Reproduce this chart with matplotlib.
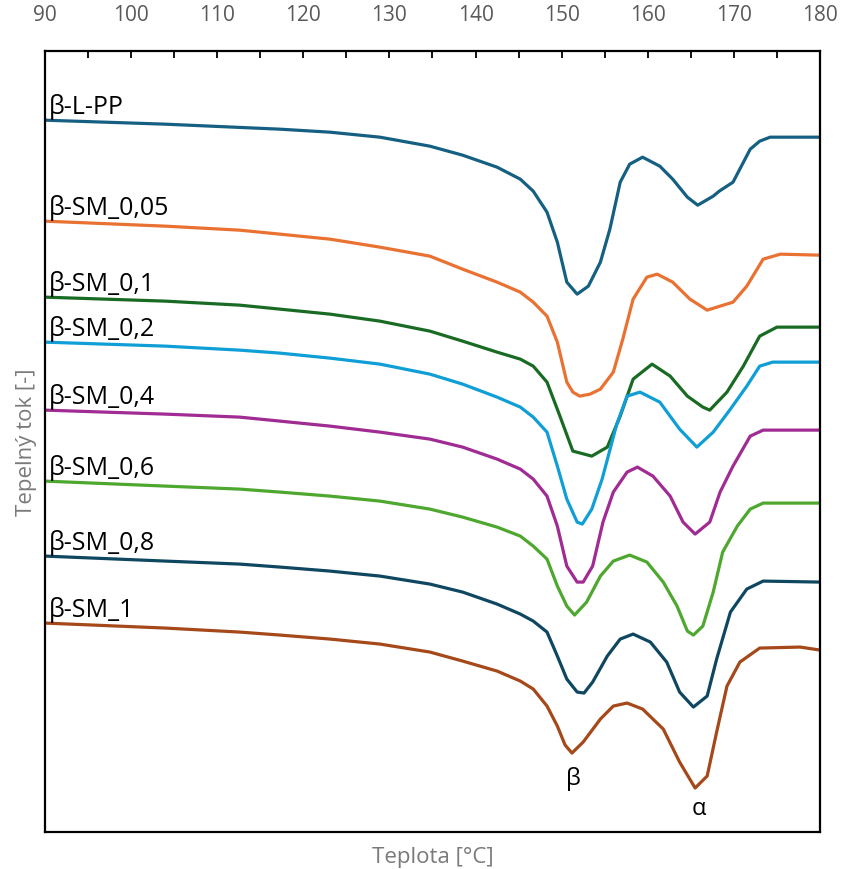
import matplotlib
matplotlib.use("Agg")
import matplotlib.pyplot as plt
from matplotlib.ticker import MultipleLocator

# DSC melting curves, heat flow in arbitrary units (curves are offset vertically)
names = ["β-L-PP", "β-SM_0,05", "β-SM_0,1", "β-SM_0,2",
         "β-SM_0,4", "β-SM_0,6", "β-SM_0,8", "β-SM_1"]
colors = ["#156082", "#E97132", "#196B24", "#0F9ED5",
          "#A02B93", "#4EA72E", "#0F4761", "#A5481A"]

t_lpp = [90, 104, 117.3, 123.1, 128.9, 134.7, 138.5, 142.5, 145.2, 146.7, 148.3, 149.5,
         150.6, 151.8, 153.1, 154.5, 155.6, 156.8, 157.9, 159.4, 161.4, 162.9, 164.6,
         165.8, 167.6, 168.3, 169.9, 171.9, 173.0, 174.2, 180]
q_lpp = [71.9, 71.5, 71.0, 70.7, 70.2, 69.3, 68.4, 67.2, 66.0, 64.8, 62.7, 59.7,
         55.7, 54.5, 55.3, 57.7, 61.0, 65.7, 67.5, 68.2, 67.3, 66.0, 64.2,
         63.4, 64.3, 64.8, 65.7, 69.0, 69.8, 70.2, 70.2]

t_005 = [90, 104, 112.6, 117.3, 123.1, 128.9, 134.7, 138.5, 142.5, 145.2, 146.7, 148.3,
         149.5, 150.6, 151.3, 152.1, 153.3, 154.5, 156.0, 157.1, 158.3, 159.9, 161.1,
         162.9, 164.9, 166.9, 169.9, 171.5, 173.4, 175.4, 180]
q_005 = [61.8, 61.3, 60.9, 60.5, 60.0, 59.2, 58.3, 57.0, 55.7, 54.7, 53.7, 52.3,
         49.7, 45.7, 44.7, 44.3, 44.5, 45.0, 46.7, 50.0, 54.0, 56.2, 56.5,
         55.7, 54.0, 52.9, 53.7, 55.3, 58.0, 58.5, 58.4]

t_01 = [90, 104, 112.6, 117.3, 123.1, 128.9, 134.7, 138.5, 142.5, 145.2, 146.7, 148.3,
        149.8, 151.3, 153.5, 155.3, 156.8, 158.3, 160.5, 162.6, 164.6, 166.4, 167.2,
        169.2, 171.1, 173.0, 175.0, 180]
q_01 = [54.2, 53.8, 53.4, 53.0, 52.5, 51.8, 50.8, 49.8, 48.7, 48.0, 47.3, 45.7,
        42.3, 38.8, 38.3, 39.2, 42.3, 46.0, 47.5, 46.3, 44.3, 43.2, 42.9,
        44.7, 47.3, 50.3, 51.2, 51.2]

t_02 = [90, 104, 112.6, 117.3, 123.1, 128.9, 134.7, 138.5, 142.5, 145.2, 146.7, 148.3,
        149.5, 150.6, 151.8, 152.4, 153.5, 154.7, 156.4, 157.6, 159.1, 161.4, 163.7,
        165.7, 167.6, 169.6, 171.5, 173.0, 174.5, 180]
q_02 = [49.7, 49.3, 48.9, 48.6, 48.1, 47.5, 46.5, 45.5, 44.2, 43.2, 42.2, 40.7,
        37.3, 34.0, 31.7, 31.5, 33.0, 36.0, 41.5, 44.3, 44.7, 43.7, 41.0,
        39.2, 40.7, 43.0, 45.3, 47.3, 47.7, 47.7]

t_04 = [90, 104, 112.6, 117.3, 123.1, 128.9, 134.7, 138.5, 142.5, 145.2, 146.7, 148.3,
        149.5, 150.6, 151.8, 152.5, 153.6, 154.8, 156.0, 157.6, 158.8, 160.6, 162.6,
        164.1, 165.5, 167.2, 168.4, 169.9, 171.9, 173.4, 180]
q_04 = [42.9, 42.5, 42.2, 41.8, 41.3, 40.7, 40.0, 39.2, 38.0, 37.0, 36.0, 34.3,
        31.3, 27.3, 25.7, 25.7, 27.3, 31.7, 34.7, 36.7, 37.2, 36.3, 34.3,
        31.7, 30.5, 31.7, 34.7, 37.3, 40.3, 40.9, 40.9]

t_06 = [90, 104, 112.6, 117.3, 123.1, 128.9, 134.7, 138.5, 142.5, 145.2, 146.7, 148.3,
        149.5, 150.6, 151.5, 152.9, 154.5, 156.0, 157.9, 159.9, 161.8, 163.4, 164.6,
        165.3, 166.4, 167.6, 168.7, 170.4, 171.9, 173.4, 180]
q_06 = [35.8, 35.3, 35.0, 34.7, 34.3, 33.8, 33.0, 32.2, 31.2, 30.3, 29.3, 28.0,
        25.3, 23.3, 22.4, 23.7, 26.3, 27.8, 28.4, 27.7, 25.7, 23.3, 20.8,
        20.4, 21.3, 24.7, 28.7, 31.3, 33.0, 33.6, 33.6]

t_08 = [90, 104, 112.6, 117.3, 123.1, 128.9, 134.7, 138.5, 142.5, 145.2, 146.7, 148.3,
        149.5, 150.6, 151.8, 152.6, 153.6, 155.3, 156.8, 158.3, 160.3, 162.2, 163.7,
        165.3, 166.9, 168.0, 169.6, 171.5, 173.4, 180]
q_08 = [28.3, 27.8, 27.5, 27.2, 26.8, 26.3, 25.5, 24.7, 23.5, 22.5, 21.8, 20.7,
        18.3, 16.0, 14.7, 14.6, 15.7, 18.3, 20.0, 20.5, 19.7, 17.7, 14.7,
        13.2, 14.3, 18.0, 22.7, 25.0, 25.8, 25.7]

t_1 = [90, 104, 112.6, 117.3, 123.1, 128.9, 134.7, 138.5, 142.5, 145.2, 146.7, 148.3,
       149.5, 150.4, 151.2, 152.5, 154.5, 156.0, 157.6, 159.4, 161.8, 163.7, 165.5,
       166.9, 168.0, 169.2, 170.7, 173.0, 177.7, 180]
q_1 = [21.6, 21.1, 20.7, 20.4, 20.0, 19.5, 18.7, 17.8, 16.8, 15.8, 15.0, 13.3,
       11.3, 9.4, 8.6, 9.7, 12.0, 13.3, 13.6, 13.0, 11.0, 7.7, 5.1,
       6.3, 10.7, 15.3, 17.7, 19.1, 19.2, 18.9]

temps = [t_lpp, t_005, t_01, t_02, t_04, t_06, t_08, t_1]
flows = [q_lpp, q_005, q_01, q_02, q_04, q_06, q_08, q_1]


def main():
    fig = plt.figure(figsize=(8.41, 8.70), dpi=100)
    ax = fig.add_axes([0.0535, 0.0425, 0.9215, 0.8975])

    for name, col, t, q in zip(names, colors, temps, flows):
        ax.plot(t, q, color=col, lw=2.3, solid_joinstyle="round")
        ax.annotate(name, (t[0], q[0]), xytext=(3, 1), textcoords="offset points",
                    ha="left", va="bottom", fontsize=18, color="black")

    # peak labels under the two minima of the last curve
    low = [i for i, t in enumerate(t_1) if t < 158]
    i_beta = min(low, key=lambda i: q_1[i])
    i_alpha = q_1.index(min(q_1))
    ax.annotate("β", (t_1[i_beta], q_1[i_beta]), xytext=(1, -9), textcoords="offset points",
                ha="center", va="top", fontsize=17)
    ax.annotate("α", (t_1[i_alpha], q_1[i_alpha]), xytext=(3, -6), textcoords="offset points",
                ha="center", va="top", fontsize=17)

    ax.set_xlim(90, 180)
    ax.set_ylim(0.7, 78.8)
    ax.xaxis.tick_top()
    ax.xaxis.set_major_locator(MultipleLocator(10))
    ax.xaxis.set_minor_locator(MultipleLocator(5))
    ax.tick_params(axis="x", which="both", direction="in", length=5, width=1.3,
                   labelsize=15, labelcolor="#595959", pad=19)
    ax.set_yticks([])
    for s in ax.spines.values():
        s.set_linewidth(1.6)

    ax.set_xlabel("Teplota [°C]", fontsize=16, color="#7a7a7a", labelpad=10)
    ax.xaxis.set_label_position("bottom")
    ax.set_ylabel("Tepelný tok [-]", fontsize=16, color="#7a7a7a", labelpad=6)

    fig.savefig("out.png", dpi=100)


if __name__ == "__main__":
    plt.rcParams["font.family"] = ["Open Sans", "DejaVu Sans"]
    main()
